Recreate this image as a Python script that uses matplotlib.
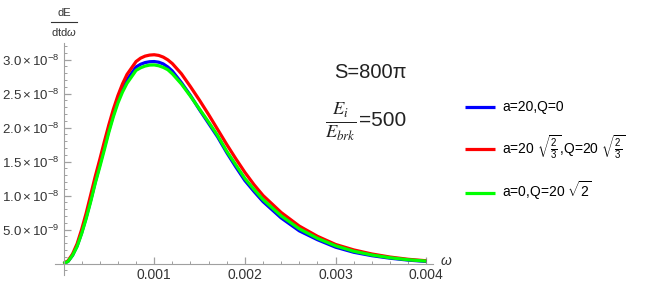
import matplotlib
matplotlib.use("Agg")
import matplotlib.pyplot as plt
from matplotlib.ticker import MultipleLocator, FixedLocator
import numpy as np

# omega grid and spectra (units of 1e-8)
omega = [0, 0.00005, 0.0001, 0.00015, 0.0002, 0.00025, 0.0003, 0.00035, 0.0004,
         0.00045, 0.0005, 0.00055, 0.0006, 0.00065, 0.0007, 0.0008, 0.00085,
         0.0009, 0.00095, 0.001, 0.00105, 0.0011, 0.00115, 0.0012, 0.0013,
         0.0014, 0.0015, 0.0016, 0.0017, 0.0018, 0.0019, 0.002, 0.0021, 0.0022,
         0.0024, 0.0026, 0.0028, 0.003, 0.0032, 0.0034, 0.0036, 0.0038, 0.004]
blue = [0, 0.03, 0.12, 0.26, 0.45, 0.68, 0.93, 1.20, 1.45, 1.71, 1.96, 2.19,
        2.40, 2.57, 2.70, 2.89, 2.93, 2.955, 2.967, 2.97, 2.96, 2.935, 2.89,
        2.83, 2.66, 2.47, 2.26, 2.06, 1.86, 1.63, 1.42, 1.22, 1.06, 0.91, 0.67,
        0.48, 0.35, 0.24, 0.165, 0.115, 0.078, 0.05, 0.03]
red = [0, 0.04, 0.14, 0.29, 0.50, 0.74, 1.01, 1.28, 1.53, 1.79, 2.04, 2.27,
       2.47, 2.64, 2.78, 2.97, 3.02, 3.05, 3.065, 3.07, 3.06, 3.035, 2.995,
       2.94, 2.79, 2.60, 2.40, 2.19, 1.97, 1.75, 1.54, 1.34, 1.16, 1.00, 0.75,
       0.55, 0.40, 0.28, 0.20, 0.14, 0.095, 0.062, 0.04]
green = [0, 0.03, 0.12, 0.25, 0.44, 0.66, 0.91, 1.18, 1.42, 1.67, 1.93, 2.16,
         2.36, 2.52, 2.65, 2.84, 2.878, 2.904, 2.918, 2.92, 2.908, 2.884, 2.85,
         2.79, 2.64, 2.46, 2.27, 2.08, 1.88, 1.65, 1.45, 1.25, 1.09, 0.94, 0.70,
         0.51, 0.37, 0.26, 0.18, 0.125, 0.085, 0.055, 0.035]
labels = [r"a=20,Q=0",
          r"a=20 $\sqrt{\frac{2}{3}}$,Q=20 $\sqrt{\frac{2}{3}}$",
          r"a=0,Q=20 $\sqrt{2}$"]
colors = ["#0000ff", "#ff0000", "#00ff00"]

xticks = [0.001, 0.002, 0.003, 0.004]
xticklabels = ["0.001", "0.002", "0.003", "0.004"]
yticks = [0.5e-8, 1.0e-8, 1.5e-8, 2.0e-8, 2.5e-8, 3.0e-8]
yticklabels = [r"$5.0\times10^{-9}$", r"$1.0\times10^{-8}$", r"$1.5\times10^{-8}$",
               r"$2.0\times10^{-8}$", r"$2.5\times10^{-8}$", r"$3.0\times10^{-8}$"]

plt.rcParams["font.family"] = ["Liberation Sans", "DejaVu Sans"]
plt.rcParams["mathtext.fontset"] = "custom"
plt.rcParams["mathtext.rm"] = "Liberation Sans"
plt.rcParams["mathtext.it"] = "Liberation Sans:italic"
plt.rcParams["mathtext.bf"] = "Liberation Sans:bold"

W, H = 670, 308
fig = plt.figure(figsize=(W / 100, H / 100), dpi=100)
# axes box in pixels: x 55..433, y 43..275 (from top), origin at (63.5, 263.5)
ax = fig.add_axes([55 / W, 1 - 275 / H, (433 - 55) / W, (275 - 43) / H])

x_per_px = 0.001 / 90.7
y_per_px = 0.5e-8 / 34
ax.set_xlim(-(63.5 - 55) * x_per_px, (433 - 63.5) * x_per_px)
ax.set_ylim(-(275 - 263.5) * y_per_px, (263.5 - 43) * y_per_px)

om = np.array(omega)
for vals, c, lab in zip([blue, red, green], colors, labels):
    ax.plot(om, np.array(vals) * 1e-8, color=c, lw=2.3, label=lab,
            solid_capstyle="butt", solid_joinstyle="round")

axis_col = "#a0a0a0"
for s in ["top", "right"]:
    ax.spines[s].set_visible(False)
ax.spines["left"].set_position(("data", 0))
ax.spines["bottom"].set_position(("data", 0))
ax.spines["left"].set_color(axis_col)
ax.spines["bottom"].set_color(axis_col)
ax.patch.set_alpha(0)

ax.xaxis.set_major_locator(FixedLocator(xticks))
ax.set_xticklabels(xticklabels)
ax.xaxis.set_minor_locator(MultipleLocator(0.0002))
ax.yaxis.set_major_locator(FixedLocator(yticks))
ax.set_yticklabels(yticklabels)
ax.yaxis.set_minor_locator(MultipleLocator(0.1e-8))
ax.tick_params(which="both", direction="in", color=axis_col,
               labelcolor="#333333")
ax.tick_params(which="major", length=5, width=0.9)
ax.tick_params(which="minor", length=2.5, width=0.7)
ax.tick_params(axis="x", pad=3, labelsize=10)
ax.tick_params(axis="y", pad=3, labelsize=9.5)

# axis labels
fig.text(64 / W, 1 - 13 / H, "dE", ha="center", va="center", fontsize=8,
         color="#333333")
fig.add_artist(plt.Line2D([51 / W, 77 / W], [1 - 22 / H, 1 - 22 / H],
                          color="#333333", lw=0.8))
fig.text(64 / W, 1 - 32 / H, r"dtd$\omega$", ha="center", va="center",
         fontsize=8, color="#333333")
fig.text(446 / W, 1 - 261 / H, r"$\omega$", ha="center", va="center",
         fontsize=10, color="#333333")

# annotations
fig.text(370 / W, 1 - 73 / H, "S=800π", ha="center", va="center", fontsize=14.5,
         color="#222222")
fig.text(341 / W, 1 - 122 / H, r"$\frac{E_i}{E_{brk}}$", ha="center",
         va="center", fontsize=19, math_fontfamily="stix", color="#222222")
fig.text(359 / W, 1 - 120 / H, "=500", ha="left", va="center", fontsize=15,
         color="#222222")

fig.legend(loc="upper left", bbox_to_anchor=(452 / W, 1 - 88 / H),
           frameon=False, fontsize=10, handlelength=2.2, handletextpad=0.5,
           labelspacing=1.35)

fig.savefig("out.png", dpi=100)
